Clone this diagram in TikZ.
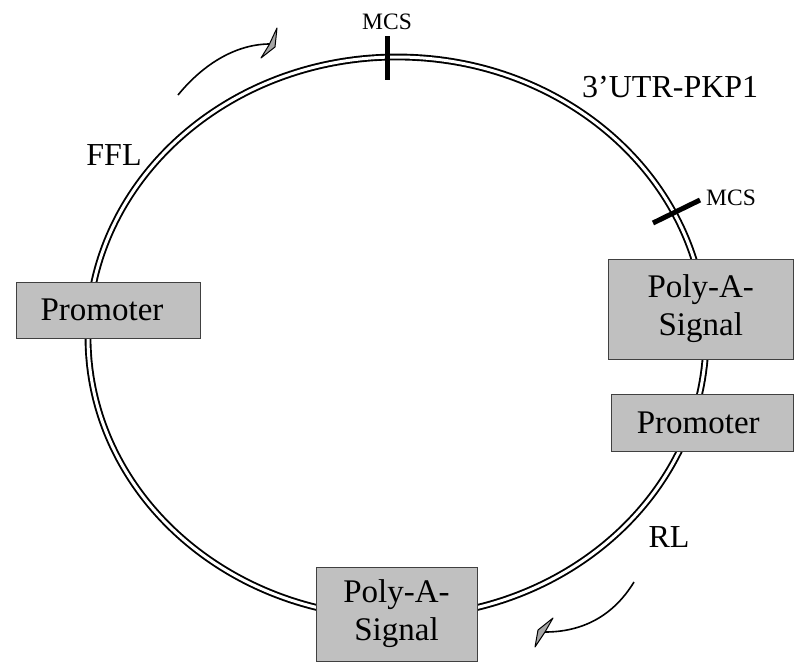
\documentclass[tikz,border=0pt]{standalone}
\usepackage{fontspec}
\setmainfont{Liberation Serif}
\usetikzlibrary{shapes.geometric}
\definecolor{boxgray}{HTML}{C0C0C0}
\definecolor{boxedge}{HTML}{404040}
\begin{document}
\begin{tikzpicture}[x=1pt,y=-1pt,
  plasmid/.style={ellipse,draw=black,line width=1.9pt,double=white,double distance=3pt,minimum width=618pt,minimum height=560pt,inner sep=0pt},
  elem/.style={draw=boxedge,fill=boxgray,line width=1pt,inner sep=0pt,align=center,font=\fontsize{33}{38}\selectfont},
  lbl/.style={inner sep=0pt,font=\fontsize{32}{38}\selectfont},
  mcs/.style={inner sep=0pt,font=\fontsize{23.5}{26}\selectfont},
  tick/.style={line width=5pt},
  arr/.style={line width=1.6pt},
  head/.style={draw=black,fill=gray!70,line width=1pt,line join=round}]
\useasboundingbox (0,0) rectangle (794,664);
\node[plasmid] (ring) at (397,337) {};
% ticks
\coordinate (t1a) at (387,36); \coordinate (t1b) at (387,80);
\draw[tick] (t1a) -- (t1b);
\coordinate (t2a) at (653,223); \coordinate (t2b) at (700,200);
\draw[tick] (t2a) -- (t2b);
% boxes
\node[elem,minimum width=184pt,minimum height=56pt] (promL) at (108,310) {\hspace*{-12pt}Promoter};
\node[elem,minimum width=185.5pt,minimum height=100pt] (polyR) at (700.75,309) {Poly-A-\\Signal};
\node[elem,minimum width=182.5pt,minimum height=57pt] (promR) at (702.25,422.5) {\hspace*{-8pt}Promoter};
\node[elem,minimum width=161pt,minimum height=94pt] (polyB) at (396.5,614) {Poly-A-\\Signal};
% labels
\node[mcs] (mcs1) at (387,22) {MCS};
\node[mcs,anchor=west] (mcs2) at (706,198) {MCS};
\node[lbl,anchor=west] (utr) at (582,87) {3’UTR-PKP1};
\node[lbl] (ffl) at (114,155) {FFL};
\node[lbl] (rl) at (669,537) {RL};
% direction arrows
\coordinate (a1s) at (178,95); \coordinate (a1e) at (270,44);
\draw[arr] (a1s) .. controls (205,62) and (238,44) .. (a1e);
\filldraw[head] (261,58) -- (269,45) -- (277,28) -- (275,47) -- cycle;
\coordinate (a2s) at (634,582); \coordinate (a2e) at (545,632);
\draw[arr] (a2s) .. controls (612,618) and (580,632) .. (a2e);
\filldraw[head] (535,647) -- (538,630) -- (553,618) -- (545,632) -- cycle;
\end{tikzpicture}
\end{document}
